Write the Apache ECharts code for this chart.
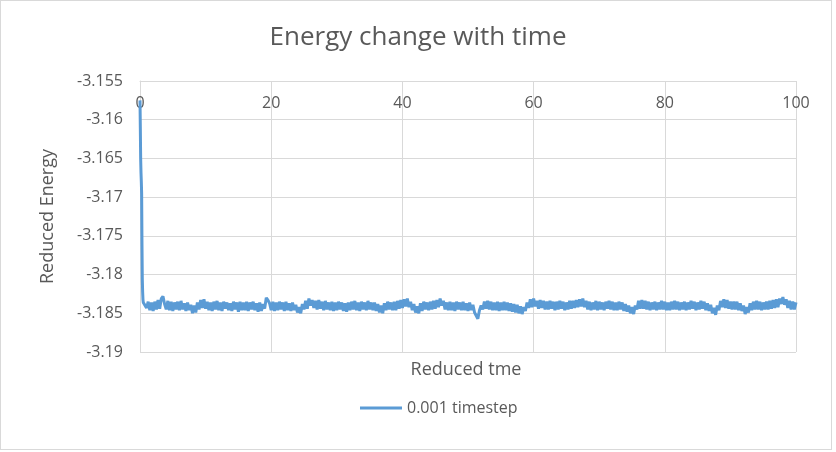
<!DOCTYPE html>
<html>
<head>
<meta charset="utf-8">
<script src="https://cdn.jsdelivr.net/npm/echarts@6/dist/echarts.min.js"></script>
<style>
  html, body { margin: 0; padding: 0; background: #ffffff; }
  #chart { position: absolute; left: 0; top: 0; width: 836px; height: 452px; }
  #frame { position: absolute; left: 0; top: 0; width: 830px; height: 448px; border: 1px solid #d9d9d9; pointer-events: none; }
</style>
</head>
<body>
<div id="chart"></div>
<div id="frame"></div>
<script>
// ---- Data ----
const chartTitle = 'Energy change with time';
const xAxisTitle = 'Reduced tme';
const yAxisTitle = 'Reduced Energy';
const seriesName = '0.001 timestep';

const xTicks = [0, 20, 40, 60, 80, 100];
const yTicks = [-3.19, -3.185, -3.18, -3.175, -3.17, -3.165, -3.16, -3.155];

// initial transient (time, energy)
const transientTime = [0, 0.05, 0.1, 0.15, 0.2, 0.25, 0.3, 0.35, 0.4, 0.45, 0.5];
const transientEnergy = [-3.1575, -3.1610, -3.1650, -3.1668, -3.1680, -3.1695, -3.1760, -3.1805, -3.1822, -3.1832, -3.1836];

// steady part, sampled every 0.25 reduced time units starting at 0.75
const steadyStart = 0.75;
const steadyStep = 0.25;
const steadyEnergy = [
  -3.1834,-3.1843,-3.1835,-3.1846,-3.1836,-3.1847,-3.1835,-3.1845,-3.1833,-3.1844,-3.1831,-3.1828,-3.1838,-3.1845,-3.1834,-3.1846,-3.1835,-3.1847,-3.1836,-3.1845,
  -3.1835,-3.1846,-3.1834,-3.1845,-3.1837,-3.1847,-3.1836,-3.1846,-3.1839,-3.1850,-3.1840,-3.1849,-3.1836,-3.1845,-3.1833,-3.1843,-3.1832,-3.1844,-3.1835,-3.1846,
  -3.1836,-3.1847,-3.1835,-3.1845,-3.1834,-3.1846,-3.1836,-3.1847,-3.1835,-3.1844,-3.1836,-3.1846,-3.1837,-3.1847,-3.1835,-3.1845,-3.1836,-3.1848,-3.1835,-3.1846,
  -3.1836,-3.1846,-3.1835,-3.1847,-3.1836,-3.1845,-3.1835,-3.1846,-3.1837,-3.1848,-3.1836,-3.1847,-3.1838,-3.1844,-3.1830,-3.1833,-3.1837,-3.1846,-3.1835,-3.1847,
  -3.1836,-3.1846,-3.1835,-3.1845,-3.1836,-3.1847,-3.1835,-3.1846,-3.1837,-3.1847,-3.1836,-3.1846,-3.1839,-3.1849,-3.1842,-3.1850,-3.1838,-3.1845,-3.1834,-3.1844,
  -3.1831,-3.1840,-3.1833,-3.1843,-3.1834,-3.1845,-3.1833,-3.1844,-3.1835,-3.1846,-3.1834,-3.1845,-3.1836,-3.1846,-3.1835,-3.1847,-3.1836,-3.1846,-3.1835,-3.1845,
  -3.1836,-3.1847,-3.1837,-3.1848,-3.1836,-3.1846,-3.1835,-3.1845,-3.1834,-3.1846,-3.1836,-3.1847,-3.1835,-3.1845,-3.1836,-3.1846,-3.1834,-3.1845,-3.1836,-3.1846,
  -3.1836,-3.1847,-3.1838,-3.1849,-3.1840,-3.1850,-3.1837,-3.1846,-3.1835,-3.1845,-3.1836,-3.1846,-3.1835,-3.1846,-3.1834,-3.1844,-3.1833,-3.1843,-3.1832,-3.1841,
  -3.1831,-3.1842,-3.1835,-3.1846,-3.1838,-3.1849,-3.1841,-3.1850,-3.1837,-3.1847,-3.1835,-3.1845,-3.1836,-3.1846,-3.1835,-3.1845,-3.1834,-3.1844,-3.1833,-3.1842,
  -3.1831,-3.1840,-3.1834,-3.1845,-3.1836,-3.1846,-3.1835,-3.1846,-3.1836,-3.1847,-3.1835,-3.1845,-3.1836,-3.1846,-3.1835,-3.1846,-3.1837,-3.1847,-3.1836,-3.1846,
  -3.1839,-3.1849,-3.1851,-3.1857,-3.1846,-3.1840,-3.1845,-3.1835,-3.1844,-3.1834,-3.1845,-3.1835,-3.1846,-3.1836,-3.1846,-3.1835,-3.1847,-3.1836,-3.1846,-3.1835,
  -3.1846,-3.1836,-3.1847,-3.1837,-3.1848,-3.1838,-3.1849,-3.1839,-3.1850,-3.1841,-3.1851,-3.1842,-3.1847,-3.1836,-3.1843,-3.1832,-3.1842,-3.1831,-3.1841,-3.1834,
  -3.1844,-3.1833,-3.1843,-3.1834,-3.1845,-3.1835,-3.1845,-3.1834,-3.1844,-3.1835,-3.1846,-3.1835,-3.1845,-3.1834,-3.1844,-3.1835,-3.1846,-3.1836,-3.1845,-3.1834,
  -3.1844,-3.1834,-3.1843,-3.1833,-3.1842,-3.1832,-3.1841,-3.1831,-3.1842,-3.1834,-3.1845,-3.1835,-3.1846,-3.1836,-3.1845,-3.1834,-3.1846,-3.1835,-3.1845,-3.1836,
  -3.1846,-3.1835,-3.1844,-3.1834,-3.1845,-3.1835,-3.1846,-3.1836,-3.1846,-3.1835,-3.1845,-3.1836,-3.1847,-3.1838,-3.1848,-3.1840,-3.1850,-3.1842,-3.1851,-3.1840,
  -3.1845,-3.1834,-3.1844,-3.1833,-3.1844,-3.1834,-3.1845,-3.1835,-3.1846,-3.1836,-3.1845,-3.1835,-3.1846,-3.1836,-3.1845,-3.1834,-3.1845,-3.1835,-3.1846,-3.1836,
  -3.1846,-3.1835,-3.1845,-3.1834,-3.1845,-3.1835,-3.1846,-3.1836,-3.1845,-3.1835,-3.1846,-3.1836,-3.1845,-3.1834,-3.1844,-3.1835,-3.1846,-3.1836,-3.1845,-3.1834,
  -3.1844,-3.1835,-3.1846,-3.1837,-3.1847,-3.1839,-3.1850,-3.1843,-3.1852,-3.1840,-3.1846,-3.1834,-3.1842,-3.1832,-3.1843,-3.1833,-3.1844,-3.1835,-3.1845,-3.1835,
  -3.1845,-3.1835,-3.1846,-3.1837,-3.1847,-3.1840,-3.1851,-3.1842,-3.1849,-3.1837,-3.1846,-3.1835,-3.1845,-3.1834,-3.1845,-3.1835,-3.1846,-3.1836,-3.1845,-3.1835,
  -3.1845,-3.1834,-3.1844,-3.1833,-3.1843,-3.1832,-3.1842,-3.1831,-3.1838,-3.1829,-3.1839,-3.1832,-3.1843,-3.1834,-3.1845,-3.1835,-3.1845,-3.1836
];

// ---- Build series data ----
const seriesData = [];
for (let i = 0; i < transientTime.length; i++) seriesData.push([transientTime[i], transientEnergy[i]]);
for (let i = 0; i < steadyEnergy.length; i++) seriesData.push([+(steadyStart + i * steadyStep).toFixed(2), steadyEnergy[i]]);

const FONT = '"Open Sans", "Noto Sans", sans-serif';
const TXT = '#595959';
const GRID = '#d9d9d9';

const chart = echarts.init(document.getElementById('chart'), null, { renderer: 'canvas' });
chart.setOption({
  animation: false,
  backgroundColor: '#ffffff',
  textStyle: { fontFamily: FONT, color: TXT },
  title: {
    text: chartTitle,
    left: 'center',
    top: 20,
    textStyle: { fontFamily: FONT, fontSize: 26, fontWeight: 'normal', color: TXT }
  },
  legend: {
    data: [seriesName],
    left: 355,
    top: 395,
    icon: 'rect',
    itemWidth: 42,
    itemHeight: 3,
    textStyle: { fontFamily: FONT, fontSize: 16, color: TXT }
  },
  grid: { left: 140, right: 40, top: 81, bottom: 100, containLabel: false },
  xAxis: {
    type: 'value',
    position: 'top',
    min: xTicks[0],
    max: xTicks[xTicks.length - 1],
    interval: 20,
    axisLine: { show: true, onZero: false, lineStyle: { color: GRID, width: 1 } },
    axisTick: { show: false },
    axisLabel: { inside: true, margin: 14, fontFamily: FONT, fontSize: 16, color: TXT },
    splitLine: { show: true, lineStyle: { color: GRID, width: 1 } }
  },
  yAxis: {
    type: 'value',
    min: yTicks[0],
    max: yTicks[yTicks.length - 1],
    interval: 0.005,
    name: yAxisTitle,
    nameLocation: 'middle',
    nameRotate: 90,
    nameGap: 83,
    nameTextStyle: { fontFamily: FONT, fontSize: 18, color: TXT },
    axisLine: { show: true, lineStyle: { color: GRID, width: 1 } },
    axisTick: { show: false },
    axisLabel: {
      margin: 17,
      fontFamily: FONT, fontSize: 16, color: TXT,
      formatter: function (v) { return String(parseFloat(v.toFixed(3))); }
    },
    splitLine: { show: true, lineStyle: { color: GRID, width: 1 } }
  },
  graphic: [{
    type: 'text',
    x: 466,
    y: 370,
    style: { text: xAxisTitle, fontFamily: FONT, fontSize: 18, fill: TXT, textAlign: 'center', textVerticalAlign: 'middle' }
  }],
  series: [{
    name: seriesName,
    type: 'line',
    data: seriesData,
    symbol: 'none',
    showSymbol: false,
    sampling: null,
    lineStyle: { color: '#5b9bd5', width: 3 },
    itemStyle: { color: '#5b9bd5' },
    z: 2
  }]
});
</script>
</body>
</html>
